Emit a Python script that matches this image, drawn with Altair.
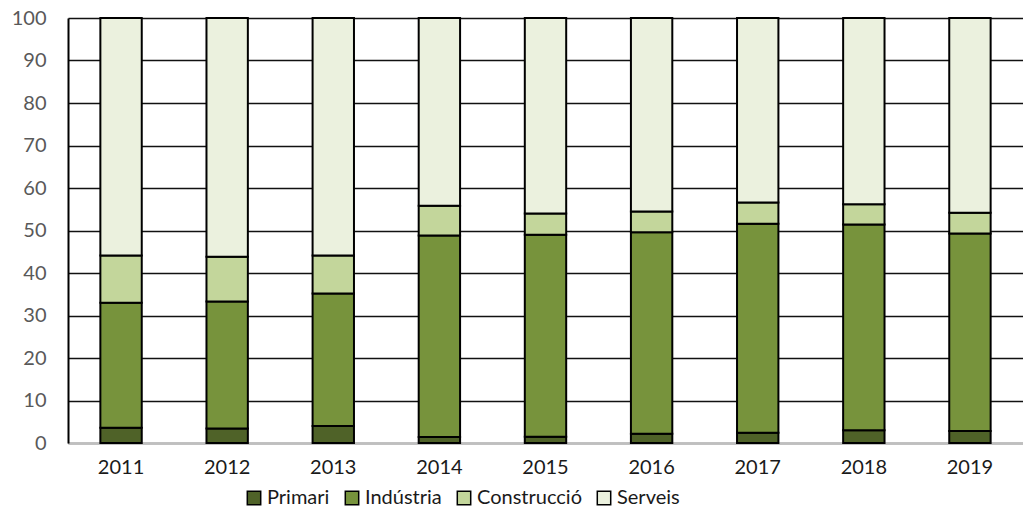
import altair as alt
import pandas as pd

years = ["2011", "2012", "2013", "2014", "2015", "2016", "2017", "2018", "2019"]
sectors = ["Primari", "Indústria", "Construcció", "Serveis"]
primari = [3.6, 3.4, 4.0, 1.4, 1.5, 2.2, 2.4, 3.0, 2.8]
industria = [29.4, 29.9, 31.2, 47.4, 47.5, 47.4, 49.2, 48.4, 46.5]
construccio = [11.1, 10.5, 8.9, 7.0, 5.0, 4.9, 5.0, 4.8, 4.9]
serveis = [55.9, 56.2, 55.9, 44.2, 46.0, 45.5, 43.4, 43.8, 45.8]
colors = ["#4f6228", "#77933c", "#c3d69b", "#ebf1de"]

rows = []
for series, vals in zip(sectors, [primari, industria, construccio, serveis]):
    for i, (y, v) in enumerate(zip(years, vals)):
        rows.append({"year": y, "sector": series, "value": v, "ord": sectors.index(series)})
df = pd.DataFrame(rows)

FONT = "Lato"

chart = alt.Chart(df).mark_bar(stroke="black", strokeWidth=2).encode(
    x=alt.X("year:N", sort=years, title=None,
            scale=alt.Scale(paddingInner=0.61, paddingOuter=0.305),
            axis=alt.Axis(labelAngle=0, labelFontSize=20, labelColor="#1a1a1a",
                          labelFont=FONT, ticks=False, labelPadding=14,
                          domainColor="#bfbfbf", domainWidth=2, grid=False)),
    y=alt.Y("value:Q", stack="zero", title=None,
            scale=alt.Scale(domain=[0, 100], nice=False),
            axis=alt.Axis(values=list(range(0, 101, 10)), labelFontSize=20,
                          labelColor="#595959", labelFont=FONT, ticks=False,
                          labelPadding=22, domainColor="black", domainWidth=2,
                          gridColor="#111111", gridWidth=1.6)),
    color=alt.Color("sector:N", sort=sectors,
                    scale=alt.Scale(domain=sectors, range=colors),
                    legend=alt.Legend(title=None, orient="none", direction="horizontal",
                                      legendX=176, legendY=470,
                                      symbolType="square", symbolSize=180,
                                      symbolStrokeColor="black", symbolStrokeWidth=1.5,
                                      labelFontSize=20, labelFont=FONT, labelColor="#1a1a1a",
                                      labelOffset=3, columnPadding=12, padding=0)),
    order=alt.Order("ord:Q", sort="ascending"),
).properties(
    width=955, height=425,
    autosize=alt.AutoSizeParams(type="none"),
    padding={"left": 60, "top": 10, "right": 0, "bottom": 66},
).configure_view(stroke=None)

chart.save("out.html", embed_options={"renderer": "svg", "actions": False})
